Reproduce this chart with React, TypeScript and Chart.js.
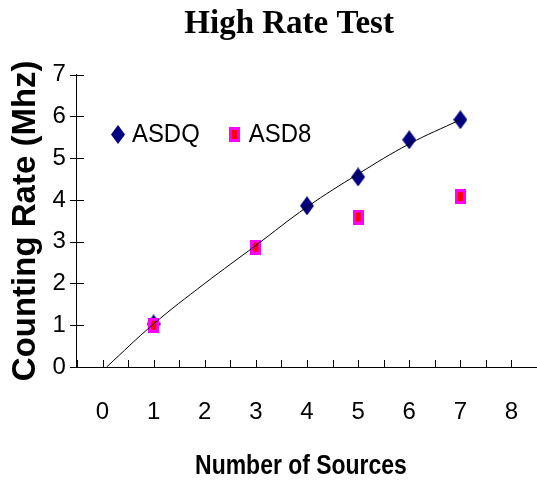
import React, { useEffect, useRef } from "react";
import { Chart, registerables } from "chart.js";

Chart.register(...registerables);

// ---- Data ----
const titleText = "High Rate Test";
const xTitle = "Number of Sources";
const yTitle = "Counting Rate (Mhz)";

const asdqLabel = "ASDQ";
const asdqSources = [1, 4, 5, 6, 7];
const asdqRates = [1.03, 3.86, 4.55, 5.44, 5.92];

const asd8Label = "ASD8";
const asd8Sources = [1, 3, 5, 7];
const asd8Rates = [1.0, 2.87, 3.59, 4.08];

// trendline
const trendSources = [0.08, 1, 2, 3, 4, 5, 6, 7];
const trendRates = [0, 1.03, 2.0, 2.91, 3.83, 4.62, 5.34, 5.92];

const xMin = -0.5;
const xMax = 8.5;
const xStep = 0.5;
const yMin = 0;
const yMax = 7;
const yStep = 1;

const SANS = "'Liberation Sans', Arial, sans-serif";

const toPoints = (xs: number[], ys: number[]) => xs.map((x, i) => ({ x, y: ys[i] }));

function makeDiamond(): HTMLCanvasElement {
  const c = document.createElement("canvas");
  c.width = 14;
  c.height = 19;
  const g = c.getContext("2d")!;
  g.fillStyle = "#000080";
  g.beginPath();
  g.moveTo(7, 0);
  g.lineTo(14, 9.5);
  g.lineTo(7, 19);
  g.lineTo(0, 9.5);
  g.closePath();
  g.fill();
  return c;
}

function makeSquare(): HTMLCanvasElement {
  const c = document.createElement("canvas");
  c.width = 11;
  c.height = 15;
  const g = c.getContext("2d")!;
  g.fillStyle = "#FF00FF";
  g.fillRect(0, 0, 11, 15);
  g.fillStyle = "#FF0000";
  g.fillRect(3, 3, 5, 9);
  return c;
}

const tickMarksPlugin = {
  id: "tickMarks",
  afterDraw(chart: any) {
    const { ctx, chartArea, scales } = chart;
    ctx.save();
    ctx.strokeStyle = "#000";
    ctx.lineWidth = 1;
    ctx.beginPath();
    const xs = scales.x;
    xs.ticks.forEach((t: any) => {
      const px = Math.round(xs.getPixelForValue(t.value)) + 0.5;
      ctx.moveTo(px, chartArea.bottom);
      ctx.lineTo(px, chartArea.bottom - 7);
    });
    const ys = scales.y;
    ys.ticks.forEach((t: any) => {
      const py = Math.round(ys.getPixelForValue(t.value)) + 0.5;
      ctx.moveTo(chartArea.left - 7, py);
      ctx.lineTo(chartArea.left + 7, py);
    });
    ctx.stroke();
    ctx.restore();
  },
};

// legend drawn inside the plot area, in one row, text slightly condensed like the original
const innerLegendPlugin = {
  id: "innerLegend",
  afterDraw(chart: any) {
    const { ctx, chartArea } = chart;
    ctx.save();
    ctx.font = "26px " + SANS;
    ctx.fillStyle = "#000";
    ctx.textBaseline = "middle";
    ctx.textAlign = "left";
    let x = chartArea.left + 41;
    const y = chartArea.top + 60;
    const items = chart.data.datasets
      .filter((ds: any) => ds.legendOrder !== undefined)
      .sort((a: any, b: any) => a.legendOrder - b.legendOrder);
    items.forEach((ds: any) => {
      const img = ds.pointStyle as HTMLCanvasElement;
      ctx.drawImage(img, Math.round(x - img.width / 2), Math.round(y - img.height / 2));
      const tx = x + 14;
      const w = ctx.measureText(ds.label).width * 0.92;
      ctx.fillText(ds.label, tx, y, w);
      x = tx + w + 35;
    });
    ctx.restore();
  },
};

// x-axis title, condensed horizontally as in the original
const xTitlePlugin = {
  id: "xTitleNarrow",
  afterDraw(chart: any) {
    const { ctx, chartArea } = chart;
    ctx.save();
    ctx.font = "bold 28px " + SANS;
    ctx.fillStyle = "#000";
    ctx.textBaseline = "middle";
    ctx.textAlign = "center";
    const w = ctx.measureText(xTitle).width * 0.82;
    ctx.fillText(xTitle, (chartArea.left + chartArea.right) / 2 - 6, chart.height - 18.5, w);
    ctx.restore();
  },
};

export default function App() {
  const ref = useRef<HTMLCanvasElement | null>(null);

  useEffect(() => {
    if (!ref.current) return;
    const diamond = makeDiamond();
    const square = makeSquare();
    const chart = new Chart(ref.current, {
      type: "scatter",
      data: {
        datasets: [
          {
            label: "trend",
            data: toPoints(trendSources, trendRates),
            showLine: true,
            borderColor: "#000",
            borderWidth: 1,
            pointRadius: 0,
            tension: 0.4,
            fill: false,
          } as any,
          {
            label: asd8Label,
            data: toPoints(asd8Sources, asd8Rates),
            pointStyle: square,
            pointRadius: 6,
            legendOrder: 2,
          } as any,
          {
            label: asdqLabel,
            data: toPoints(asdqSources, asdqRates),
            pointStyle: diamond,
            pointRadius: 7,
            legendOrder: 1,
          } as any,
        ],
      },
      options: {
        responsive: false,
        animation: false,
        layout: { autoPadding: false, padding: { left: 0, right: 0, top: 0, bottom: 58.6 } },
        plugins: {
          legend: { display: false },
          tooltip: { enabled: false },
          title: {
            display: true,
            text: "     " + titleText,
            color: "#000",
            font: { family: "'Liberation Serif', 'Times New Roman', serif", size: 33, weight: "bold" },
            padding: { top: 5, bottom: 30 },
          },
        },
        scales: {
          x: {
            type: "linear",
            min: xMin,
            max: xMax,
            grid: { display: false, drawTicks: true, tickLength: 30.6 },
            border: { display: true, color: "#000", width: 1 },
            ticks: {
              stepSize: xStep,
              autoSkip: false,
              maxRotation: 0,
              padding: 0,
              color: "#000",
              font: { family: SANS, size: 24 },
              callback: (v: any) => {
                const n = Number(v);
                return Number.isInteger(n) && n >= 0 ? String(n) : "";
              },
            },
            title: { display: false, text: xTitle },
          },
          y: {
            type: "linear",
            min: yMin,
            max: yMax,
            grid: { display: false, drawTicks: true, tickLength: 11 },
            border: { display: true, color: "#000", width: 1 },
            ticks: {
              stepSize: yStep,
              padding: 0,
              color: "#000",
              font: { family: SANS, size: 24 },
            },
            title: {
              display: true,
              text: yTitle,
              color: "#000",
              font: { family: SANS, size: 33, weight: "bold" },
              padding: { top: 6, bottom: 7 },
            },
          },
        },
      },
      plugins: [tickMarksPlugin, innerLegendPlugin, xTitlePlugin],
    });
    return () => chart.destroy();
  }, []);

  return (
    <div style={{ position: "fixed", left: 0, top: 0, width: 537, height: 485, background: "#fff" }}>
      <canvas ref={ref} width={537} height={485} style={{ display: "block" }} />
    </div>
  );
}
